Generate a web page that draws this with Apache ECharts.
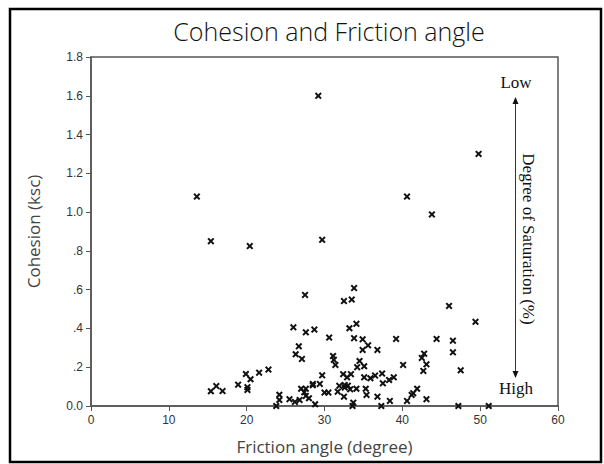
<!DOCTYPE html>
<html>
<head>
<meta charset="utf-8">
<script src="https://cdn.jsdelivr.net/npm/echarts@6/dist/echarts.min.js"></script>
<style>
  html, body { margin: 0; padding: 0; background: #fff; }
  #chart { width: 604px; height: 464px; }
</style>
</head>
<body>
<div id="chart"></div>
<script>
(function() {
  // friction angle (degree), cohesion (ksc)
  var upperPoints = [
    [13.6, 1.08], [15.4, 0.85], [20.4, 0.825], [29.2, 1.60], [29.7, 0.857],
    [40.6, 1.08], [43.8, 0.988], [49.8, 1.30], [27.5, 0.573], [33.8, 0.608],
    [32.5, 0.541], [33.5, 0.549], [46.0, 0.516], [49.4, 0.434]
  ];
  var leftCluster = [
    [15.4, 0.076], [16.1, 0.103], [16.9, 0.077], [18.9, 0.11], [19.9, 0.165],
    [20.5, 0.138], [20.1, 0.097], [20.1, 0.083], [21.6, 0.172], [22.8, 0.188],
    [23.8, 0.0], [24.2, 0.031], [24.2, 0.058], [25.5, 0.035], [26.2, 0.021],
    [26.8, 0.031], [28.8, 0.009], [28.0, 0.04], [27.6, 0.052], [27.4, 0.071],
    [27.0, 0.089], [27.6, 0.089], [28.5, 0.114], [28.5, 0.107], [29.4, 0.114],
    [29.7, 0.158], [30.0, 0.069], [30.5, 0.069]
  ];
  var middleCluster = [
    [26.0, 0.406], [27.6, 0.38], [28.7, 0.394], [26.7, 0.308], [26.3, 0.267],
    [27.1, 0.243], [30.6, 0.353], [31.1, 0.258], [31.2, 0.238], [31.4, 0.212],
    [31.7, 0.074], [31.9, 0.104], [32.6, 0.108], [33.0, 0.105], [32.6, 0.095],
    [33.3, 0.086], [34.1, 0.089], [35.3, 0.089], [32.5, 0.048], [32.4, 0.164],
    [32.9, 0.148], [33.4, 0.164], [35.1, 0.148], [33.2, 0.401], [34.1, 0.424],
    [33.8, 0.35], [34.9, 0.344], [34.9, 0.289], [35.6, 0.313], [34.5, 0.232],
    [34.2, 0.2], [35.1, 0.205], [33.7, 0.017], [33.6, 0.0]
  ];
  var rightCluster = [
    [36.8, 0.289], [39.2, 0.346], [44.4, 0.346], [46.5, 0.337], [46.5, 0.277],
    [47.5, 0.184], [40.1, 0.212], [42.8, 0.27], [42.5, 0.248], [43.1, 0.215],
    [42.7, 0.181], [35.9, 0.143], [36.5, 0.157], [37.4, 0.167], [37.5, 0.117],
    [38.3, 0.134], [38.9, 0.148], [35.4, 0.057], [36.8, 0.048], [38.4, 0.026],
    [37.3, 0.0], [40.6, 0.026], [41.2, 0.057], [41.4, 0.066], [41.9, 0.089],
    [43.1, 0.035], [47.2, 0.0], [51.1, 0.0]
  ];
  var yTickLabels = ['0.0', '.2', '.4', '.6', '.8', '1.0', '1.2', '1.4', '1.6', '1.8'];
  var xTickLabels = ['0', '10', '20', '30', '40', '50', '60'];

  var allPoints = upperPoints.concat(leftCluster, middleCluster, rightCluster);
  var crossPath = 'path://M0,2 L2,0 L5,3 L8,0 L10,2 L7,5 L10,8 L8,10 L5,7 L2,10 L0,8 L3,5 Z';

  var sans = 'Liberation Sans, Arial, sans-serif';
  var light = 'Open Sans, Noto Sans, sans-serif';
  var serif = 'Liberation Serif, Times New Roman, serif';

  var chart = echarts.init(document.getElementById('chart'), null, { renderer: 'svg' });
  chart.setOption({
    animation: false,
    backgroundColor: '#fff',
    title: {
      text: 'Cohesion and Friction angle',
      left: 324, top: 13, textAlign: 'center',
      textStyle: { fontFamily: light, fontWeight: 300, fontSize: 25, color: '#111' }
    },
    grid: {
      left: 91, right: 46, top: 57, bottom: 58,
      show: true, borderColor: '#555', borderWidth: 1.5, backgroundColor: 'transparent'
    },
    xAxis: {
      type: 'value', min: 0, max: 60, interval: 10,
      name: 'Friction angle (degree)', nameLocation: 'middle', nameGap: 32,
      nameTextStyle: { fontFamily: light, fontSize: 17, color: '#444' },
      axisLine: { show: true, lineStyle: { color: '#555', width: 1.5 } },
      axisTick: { show: true, length: 5, lineStyle: { color: '#555' } },
      axisLabel: {
        color: '#333', fontFamily: sans, fontSize: 12, margin: 8,
        formatter: function(v) { return xTickLabels[Math.round(v / 10)]; }
      },
      splitLine: { show: false }
    },
    yAxis: {
      type: 'value', min: 0, max: 1.8, interval: 0.2,
      name: 'Cohesion (ksc)', nameLocation: 'middle', nameGap: 49,
      nameTextStyle: { fontFamily: light, fontSize: 17, color: '#444' },
      axisLine: { show: true, lineStyle: { color: '#555', width: 1.5 } },
      axisTick: { show: true, length: 5, lineStyle: { color: '#555' } },
      axisLabel: {
        color: '#333', fontFamily: sans, fontSize: 12, margin: 8,
        formatter: function(v) { return yTickLabels[Math.round(v / 0.2)]; }
      },
      splitLine: { show: false }
    },
    series: [{
      type: 'scatter',
      data: allPoints,
      symbol: crossPath,
      symbolSize: 7,
      itemStyle: { color: '#111', opacity: 1 }
    }],
    graphic: [
      { type: 'rect', shape: { x: 10, y: 9, width: 591, height: 453 },
        style: { fill: 'none', stroke: '#000', lineWidth: 2.5 } },
      { type: 'text', x: 516, y: 82,
        style: { text: 'Low', font: '17px ' + serif, fill: '#111', textAlign: 'center', textVerticalAlign: 'middle' } },
      { type: 'text', x: 516, y: 388,
        style: { text: 'High', font: '17px ' + serif, fill: '#111', textAlign: 'center', textVerticalAlign: 'middle' } },
      { type: 'line', shape: { x1: 515.5, y1: 102, x2: 515.5, y2: 373 },
        style: { stroke: '#333', lineWidth: 1 } },
      { type: 'polygon', shape: { points: [[515.5, 97], [512.5, 104], [518.5, 104]] },
        style: { fill: '#111' } },
      { type: 'polygon', shape: { points: [[515.5, 378], [512.5, 371], [518.5, 371]] },
        style: { fill: '#111' } },
      { type: 'text', x: 528, y: 239, rotation: -Math.PI / 2,
        style: { text: 'Degree of Saturation (%)', font: '17px ' + serif, fill: '#111', textAlign: 'center', textVerticalAlign: 'middle' } }
    ]
  });
  window.addEventListener('resize', function() { chart.resize(); });
})();
</script>
</body>
</html>
